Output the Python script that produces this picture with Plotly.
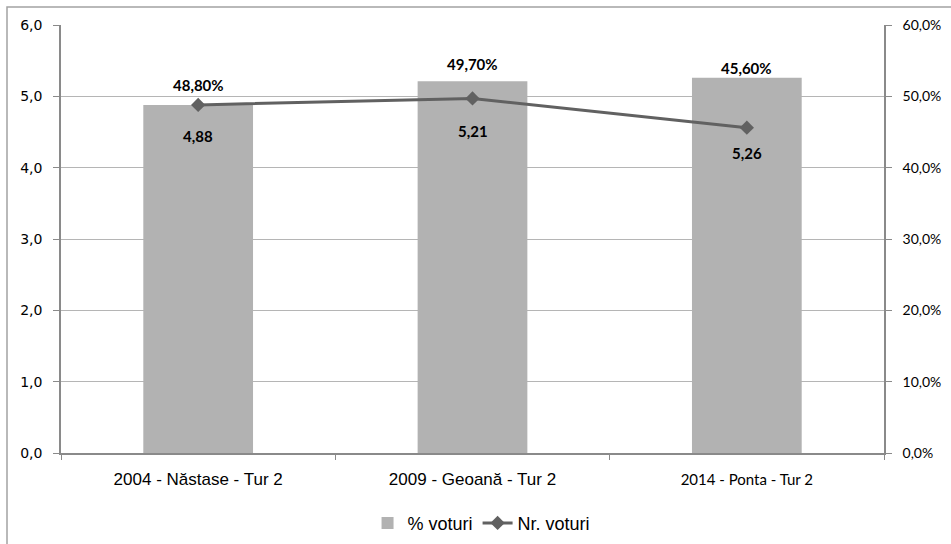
import plotly.graph_objects as go

# ---- data ----
categories = ["2004 - Năstase - Tur 2", "2009 - Geoană - Tur 2", "2014 - Ponta - Tur 2"]
nr_voturi = [4.88, 5.21, 5.26]          # millions, left axis (bars)
pct_voturi = [0.488, 0.497, 0.456]      # right axis (line)
left_ticks = [0, 1, 2, 3, 4, 5, 6]
right_ticks = [0, 0.1, 0.2, 0.3, 0.4, 0.5, 0.6]

# ---- styling ----
bar_label_shift = [20, 17, 10]
line_label_shift = [-31, -33, -25]
tick_fonts = [None, None, ("Lato", 15)]

ticktext = []
for c, f in zip(categories, tick_fonts):
    if f:
        ticktext.append(f'<span style="font-family:{f[0]};font-size:{f[1]}px">{c}</span>')
    else:
        ticktext.append(c)

fig = go.Figure()
fig.add_trace(go.Bar(
    x=categories, y=nr_voturi, name="% voturi",
    marker=dict(color="#b2b2b2", line=dict(width=0)),
    width=0.4, yaxis="y", hoverinfo="skip",
))
fig.add_trace(go.Scatter(
    x=categories, y=pct_voturi, name="Nr. voturi", yaxis="y2",
    mode="lines+markers",
    line=dict(color="#616161", width=3),
    marker=dict(symbol="diamond", size=11, color="#616161"),
    hoverinfo="skip",
))

annotations = []
for c, v, p, s in zip(categories, nr_voturi, pct_voturi, bar_label_shift):
    annotations.append(dict(
        x=c, y=v, xref="x", yref="y", yshift=s,
        text=f"{p*100:.2f}%".replace(".", ","), showarrow=False,
        yanchor="middle", font=dict(family="Lato", size=15, color="#000000", weight="bold"),
    ))
for c, v, p, s in zip(categories, nr_voturi, pct_voturi, line_label_shift):
    annotations.append(dict(
        x=c, y=p, xref="x", yref="y2", yshift=s,
        text=f"{v:.2f}".replace(".", ","), showarrow=False,
        yanchor="middle", font=dict(family="Lato", size=15, color="#000000", weight="bold"),
    ))

axis_col = "#8a8a8a"
fig.update_layout(
    width=951, height=544,
    margin=dict(l=61, r=67, t=25, b=91, autoexpand=False),
    paper_bgcolor="white", plot_bgcolor="white",
    separators=",.",
    font=dict(family="Liberation Sans", size=17, color="#000000"),
    showlegend=True,
    legend=dict(orientation="h", x=0.511, xanchor="center", y=-0.164, yanchor="middle",
                font=dict(family="Liberation Sans", size=18, color="#000000"),
                itemwidth=30, traceorder="normal"),
    bargap=0.6,
    xaxis=dict(
        type="category", tickvals=categories, ticktext=ticktext,
        showline=True, linecolor=axis_col, linewidth=1.5, automargin=False,
        ticks="outside", tickson="boundaries", ticklen=5, tickcolor=axis_col,
        ticklabelstandoff=10, showgrid=False,
        tickfont=dict(family="Liberation Sans", size=17, color="#000000"),
    ),
    yaxis=dict(
        range=[0, 6], tickvals=left_ticks, tickformat=".1f", automargin=False,
        showline=True, linecolor=axis_col, linewidth=1.5,
        ticks="outside", ticklen=6, tickcolor=axis_col,
        showgrid=True, gridcolor="#b5b5b5", gridwidth=1, zeroline=False,
        ticklabelstandoff=8,
        tickfont=dict(family="DejaVu Sans", size=14, color="#000000"),
    ),
    yaxis2=dict(
        range=[0, 0.6], tickvals=right_ticks, tickformat=".1%", automargin=False,
        overlaying="y", side="right",
        showline=True, linecolor=axis_col, linewidth=1.5,
        ticks="outside", ticklen=6, tickcolor=axis_col,
        showgrid=False, zeroline=False,
        ticklabelstandoff=8,
        tickfont=dict(family="Lato", size=14, color="#000000"),
    ),
    annotations=annotations,
    shapes=[dict(type="rect", xref="paper", yref="paper",
                 x0=(7 - 61) / 823, x1=1.2,
                 y0=-0.3, y1=(453 - 7) / 428,
                 line=dict(color="#a3a3a3", width=1.5), layer="below")],
)

fig.write_html("out.html", config={"displayModeBar": False},
               post_script="document.body.style.margin='0';")
